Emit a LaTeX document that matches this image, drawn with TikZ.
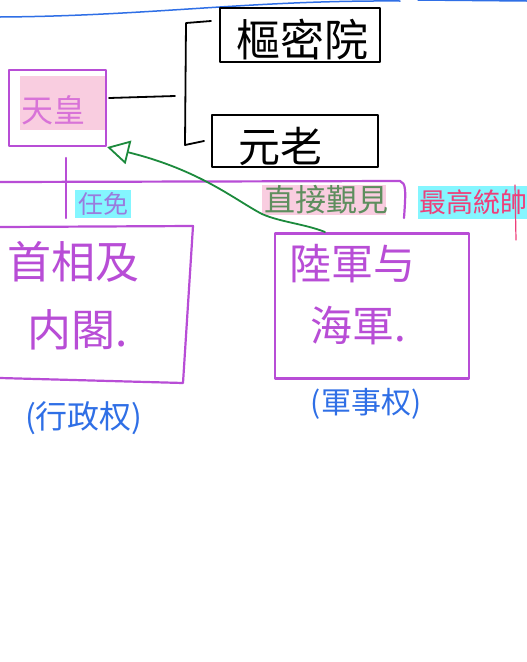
\documentclass[tikz,border=0pt]{standalone}
\usepackage{fontspec}
\newfontfamily\cjk{Noto Sans CJK TC}
\usetikzlibrary{arrows.meta,calc}
\definecolor{pur}{HTML}{B84DD6}
\definecolor{pinkhl}{HTML}{F9CDE0}
\definecolor{cyanhl}{HTML}{84F6FF}
\definecolor{blueink}{HTML}{2F6FE6}
\definecolor{greenink}{HTML}{1C8A3C}
\definecolor{tennotxt}{HTML}{D873D8}
\definecolor{ninmentxt}{HTML}{9A7BDD}
\definecolor{chokutxt}{HTML}{5E8E5E}
\definecolor{redink}{HTML}{EE3F7A}
\tikzset{
  purbox/.style={draw=pur, line width=2.2pt, inner sep=0pt},
  blkbox/.style={draw=black, line width=2pt, inner sep=0pt},
  purline/.style={draw=pur, line width=2.2pt},
  blkline/.style={draw=black, line width=1.8pt},
  hand/.style={inner sep=0pt, font=\cjk\fontsize{#1}{#1}\selectfont},
}
\begin{document}
\begin{tikzpicture}[x=1pt,y=-1pt,line cap=round,line join=round]
\useasboundingbox[fill=white] (0,0) rectangle (527,662);
% top blue line
\draw[blueink, line width=1.5pt] (0,17) .. controls (150,16) and (250,0) .. (400,1);
\draw[blueink, line width=1.5pt] (418,0) -- (527,1);

% highlights
\fill[pinkhl] (20,76) rectangle (105,130);
\fill[cyanhl] (75,190) rectangle (131,218);
\fill[pinkhl] (262,185) rectangle (386,215);
\fill[cyanhl] (418,186) rectangle (527,219);

% Emperor
\node[purbox, minimum width=97pt, minimum height=76pt] (tenno) at (57.5,108) {};
\node[hand=32, text=tennotxt] (tennotxt) at (53,110) {天皇};

% Privy council and genro
\node[blkbox, minimum width=160pt, minimum height=54pt] (suumitsu) at (300,35) {};
\node[hand=44] (suumitsutxt) at (302,40) {樞密院};
\node[blkbox, minimum width=166pt, minimum height=52pt] (genro) at (295,141) {};
\node[hand=42] (genrotxt) at (280,146) {元老};

% bracket
\draw[blkline] ($(tenno.east)+(2,-10)$) -- (175,96);
\draw[blkline] ($(suumitsu.west)+(-8,-14)$) -- (186,23) -- (185,145) -- ($(genro.west)+(-7,0)$);

% purple bar
\coordinate (barL) at (0,182);
\coordinate (barR) at (400,181);
\draw[purline] (barL) -- (barR) .. controls (406,183) and (406,190) .. (404,218);
\coordinate (vtop) at (66,158);
\coordinate (vbot) at (66,218);
\draw[purline] (vtop) -- (vbot);

% labels on bar
\node[hand=25, text=ninmentxt] (ninmen) at (103,204) {任免};
\node[hand=31, text=chokutxt] (choku) at (326,200) {直接覲見};
\node[hand=27, text=redink, anchor=west] (saiko) at (419,202) {最高統帥};
\coordinate (rt1) at (515,185);
\coordinate (rt2) at (516,240);
\draw[redink, line width=1.2pt] (rt1) -- (rt2);

% cabinet
\draw[purline] (0,227) -- (193,226) -- (183,383) -- (0,378);
\node[hand=44, text=pur] (cab1) at (74,262) {首相及};
\node[hand=44, text=pur] (cab2) at (78,330) {内閣.};
\node[hand=32, text=blueink] (gyosei) at (84,418) {(行政权)};

% army/navy
\node[purbox, minimum width=194pt, minimum height=145pt] (army) at (372,306) {};
\node[hand=42, text=pur] (army1) at (352,264) {陸軍与};
\node[hand=42, text=pur] (army2) at (358,326) {海軍.};
\node[hand=30, text=blueink] (gunji) at (366,404) {(軍事权)};

% green arrow
\coordinate (gstart) at (325,232);
\draw[greenink, line width=1.8pt, -{Triangle[open, length=22pt, width=24pt, line width=1.8pt]}]
  (gstart) .. controls (305,224) and (280,222) .. (262,214)
  .. controls (235,200) and (200,170) .. (tenno.south east);
\end{tikzpicture}
\end{document}
